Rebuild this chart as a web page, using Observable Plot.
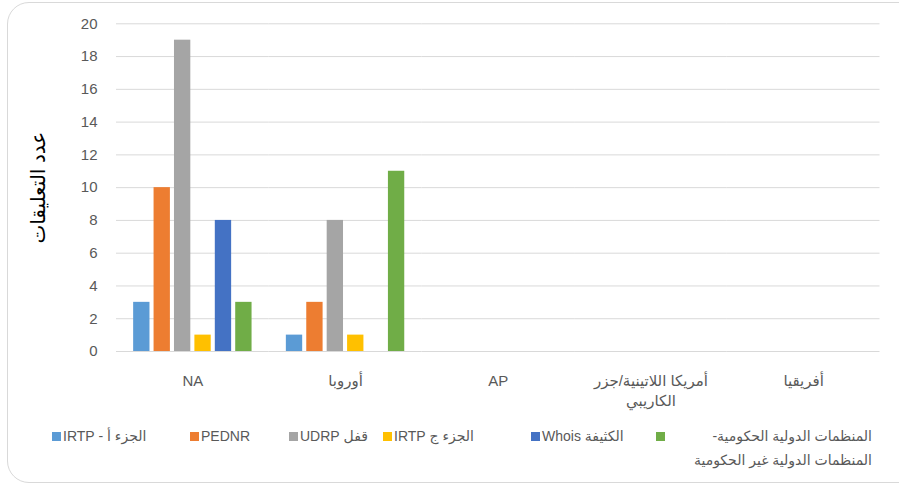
<!DOCTYPE html>
<html>
<head>
<meta charset="utf-8">
<script src="https://cdn.jsdelivr.net/npm/d3@7"></script>
<script src="https://cdn.jsdelivr.net/npm/@observablehq/plot@0.6"></script>
<style>
  body { margin: 0; overflow: hidden; background: #fff; }
  #wrap { position: relative; width: 899px; height: 488px; overflow: hidden; font-family: "Liberation Sans", "DejaVu Sans", sans-serif; }
  #frame { position: absolute; left: 7px; top: 2px; width: 940px; height: 481px; border: 1.5px solid #d9d9d9; border-radius: 22px; box-sizing: border-box; }
  #chart { position: absolute; left: 0; top: 0; }
  #chart g[aria-label="y-axis label"] text { font-size: 20px; fill: #000; font-weight: normal; }
  .leg { position: absolute; font-size: 14px; color: #595959; white-space: nowrap; line-height: 24px; }
  .sw { position: absolute; width: 9px; height: 9px; }
</style>
</head>
<body>
<div id="wrap">
  <div id="frame"></div>
  <div id="chart"></div>
  <div id="legend"></div>
</div>
<script>
const regions = ["NA", "أوروبا", "AP", "أمريكا اللاتينية/جزر الكاريبي", "أفريقيا"];
const regionLabels = ["NA", "أوروبا", "AP", "أمريكا اللاتينية/جزر\nالكاريبي", "أفريقيا"];
const series = ["الجزء أ - IRTP", "PEDNR", "قفل UDRP", "الجزء ج IRTP", "الكثيفة Whois", "المنظمات الدولية الحكومية- المنظمات الدولية غير الحكومية"];
const colors = ["#5B9BD5", "#ED7D31", "#A5A5A5", "#FFC000", "#4472C4", "#70AD47"];
const irtpA = [3, 1, 0, 0, 0];
const pednr = [10, 3, 0, 0, 0];
const udrp  = [19, 8, 0, 0, 0];
const irtpC = [1, 1, 0, 0, 0];
const whois = [8, 0, 0, 0, 0];
const igo   = [3, 11, 0, 0, 0];
const yTicks = [0, 2, 4, 6, 8, 10, 12, 14, 16, 18, 20];
const yTitle = "عدد التعليقات";

const seriesValues = [irtpA, pednr, udrp, irtpC, whois, igo];
const data = [];
regions.forEach((r, i) => series.forEach((s, j) => data.push({region: r, series: s, value: seriesValues[j][i]})));

const H = 415;
const chart = Plot.plot({
  width: 899,
  height: H,
  marginTop: 23.3,
  marginBottom: H - 351,
  marginLeft: 116,
  marginRight: 19.5,
  style: { fontFamily: "Liberation Sans, DejaVu Sans, sans-serif", fontSize: "15px", color: "#595959", background: "transparent" },
  fx: { domain: regions, padding: 0, label: null, axis: null, round: false },
  x: { domain: series, axis: null, paddingInner: 0.2, paddingOuter: 0.84, round: false },
  y: { domain: [0, 20], axis: null },
  color: { domain: series, range: colors },
  marks: [
    Plot.gridY(yTicks, { stroke: "#d9d9d9", strokeOpacity: 1, strokeWidth: 1 }),
    Plot.axisY(yTicks, { tickSize: 0, tickPadding: 19, fontSize: 15, label: yTitle, labelAnchor: "center", labelArrow: "none", labelOffset: 86 }),
    Plot.axisFx({ anchor: "bottom", tickSize: 0, tickPadding: 21, label: null, fontSize: 15, lineHeight: 1.3,
                  tickFormat: d => regionLabels[regions.indexOf(d)] }),
    Plot.barY(data, { fx: "region", x: "series", y: "value", fill: "series" })
  ]
});
document.getElementById("chart").appendChild(chart);

// legend
const legendLeft = [52, 190, 289, 383, 531, 656];
const leg = document.getElementById("legend");
series.forEach((s, i) => {
  const sw = document.createElement("div");
  sw.className = "sw";
  sw.style.left = legendLeft[i] + "px";
  sw.style.top = "432px";
  sw.style.background = colors[i];
  leg.appendChild(sw);
  const t = document.createElement("div");
  t.className = "leg";
  t.dir = "rtl";
  if (i === 5) {
    const parts = ["المنظمات الدولية الحكومية-", "المنظمات الدولية غير الحكومية"];
    t.style.right = (899 - 872) + "px";
    t.style.top = "424px";
    t.style.textAlign = "right";
    parts.forEach(p => { const d = document.createElement("div"); d.textContent = p; t.appendChild(d); });
  } else {
    t.style.left = (legendLeft[i] + 11) + "px";
    t.style.top = "424px";
    t.textContent = s;
  }
  leg.appendChild(t);
});
</script>
</body>
</html>
